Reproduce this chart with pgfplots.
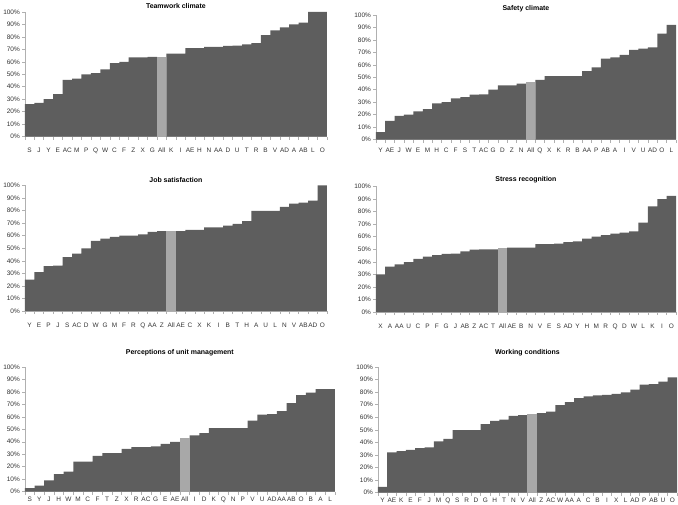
\documentclass[border=0pt]{standalone}
\usepackage{pgfplots}
\pgfplotsset{compat=1.18}
\usepackage{fontspec}
\setmainfont{Liberation Sans}
\definecolor{barD}{HTML}{5E5E5E}
\definecolor{barL}{HTML}{A8A8A8}
\definecolor{axc}{HTML}{B0B0B0}
\pgfplotsset{
  panel/.style={
    scale only axis,
    ybar, bar width=1, bar shift=0,
    ymin=0, ymax=100, xmin=-0.5, xmax=31.5,
    axis x line=bottom, axis y line=left,
    axis line style={-, axc, line width=0.6pt},
    ytick={0,10,...,100},
    yticklabel={\pgfmathprintnumber{\tick}\%},
    /pgf/number format/assume math mode=true,
    yticklabel style={font=\fontsize{6.5}{7.5}\selectfont, color=black!80, xshift=1pt},
    xticklabel style={font=\fontsize{6.5}{7.5}\selectfont, color=black!80, inner sep=0pt},
    xtick={0,...,31},
    major x tick style={draw=none},
    minor xtick={-0.5,0.5,...,31.5},
    minor x tick style={axc, line width=0.5pt},
    minor tick length=3pt,
    major tick length=2.5pt,
    y tick style={axc, line width=0.5pt},
    tick align=outside,
    title style={font=\fontsize{7}{8}\selectfont\bfseries, inner sep=0pt, yshift=-3pt},
    every axis plot/.append style={draw=none},
    clip=false,
  }
}
\begin{document}
\begin{tikzpicture}[x=1bp,y=1bp]
\path (0,0) rectangle (678,506);
% Teamwork climate
\begin{axis}[panel, at={(23bp,369bp)}, anchor=south west, width=303bp, height=125bp,
  title={Teamwork climate},
  xticklabels={S,J,Y,E,AC,M,P,Q,W,C,F,Z,X,G,All,K,I,AE,H,N,AA,D,U,T,R,B,V,AD,A,AB,L,O},
  xticklabel style={yshift=-9pt}]
\addplot[fill=barD] coordinates {(0,26)(1,27)(2,30)(3,34)(4,45.5)(5,46.5)(6,50)(7,51)(8,54)(9,59)(10,60)(11,63.6)(12,63.6)(13,64)
(15,66.5)(16,66.5)(17,71)(18,71)(19,72)(20,72)(21,72.7)(22,73)(23,74)(24,75)(25,81.5)(26,85.3)(27,87.7)(28,90)(29,91.4)(30,100)(31,100)};
\addplot[fill=barL] coordinates {(14,64)};
\end{axis}
% Safety climate
\begin{axis}[panel, at={(375bp,366bp)}, anchor=south west, width=301bp, height=125bp,
  title={Safety climate},
  xticklabels={Y,AE,J,W,E,M,H,C,F,S,T,AC,G,D,Z,N,All,Q,X,K,R,B,AA,P,AB,A,I,V,U,AD,O,L},
  xticklabel style={yshift=-6pt}]
\addplot[fill=barD] coordinates {(0,5.9)(1,15)(2,19)(3,20)(4,22.7)(5,24.5)(6,29)(7,30)(8,33)(9,34)(10,36)(11,36.2)(12,40)(13,43.5)(14,43.5)(15,45)
(17,48)(18,51)(19,51)(20,51)(21,51)(22,55)(23,58)(24,65)(25,66)(26,68)(27,72)(28,73)(29,74)(30,85)(31,92)};
\addplot[fill=barL] coordinates {(16,46)};
\end{axis}
% Job satisfaction
\begin{axis}[panel, at={(23bp,194bp)}, anchor=south west, width=303bp, height=126bp,
  title={Job satisfaction},
  xticklabels={Y,E,P,J,S,AC,D,W,G,M,F,R,Q,AA,Z,All,AE,C,X,K,I,B,T,H,A,U,L,N,V,AB,AD,O},
  xticklabel style={yshift=-9pt}]
\addplot[fill=barD] coordinates {(0,25)(1,31)(2,35.8)(3,36.3)(4,43)(5,45.8)(6,50)(7,56)(8,57.6)(9,59)(10,60)(11,60)(12,61)(13,63)(14,63.7)
(16,63.7)(17,64.7)(18,64.7)(19,66.6)(20,66.6)(21,68)(22,69.5)(23,71.6)(24,79.7)(25,79.7)(26,79.7)(27,83)(28,85.5)(29,86.3)(30,88)(31,100)};
\addplot[fill=barL] coordinates {(15,63.7)};
\end{axis}
% Stress recognition
\begin{axis}[panel, at={(375bp,193bp)}, anchor=south west, width=301bp, height=126bp,
  title={Stress recognition},
  xticklabels={X,A,AA,U,C,P,F,G,J,AB,Z,AC,T,All,AE,B,N,V,E,S,AD,Y,H,M,R,Q,D,W,L,K,I,O},
  xticklabel style={yshift=-9pt}]
\addplot[fill=barD] coordinates {(0,30)(1,36.3)(2,38)(3,39.7)(4,42.4)(5,44.2)(6,45.3)(7,46.3)(8,46.6)(9,48.4)(10,49.7)(11,50)(12,50)
(14,51.3)(15,51.3)(16,51.3)(17,54.2)(18,54.2)(19,54.5)(20,55.8)(21,56.3)(22,58.4)(23,60)(24,61.3)(25,62.4)(26,63.2)(27,64.2)(28,71.3)(29,84.2)(30,90)(31,92.6)};
\addplot[fill=barL] coordinates {(13,50.8)};
\end{axis}
% Perceptions of unit management
\begin{axis}[panel, at={(23bp,13bp)}, anchor=south west, width=311bp, height=125bp,
  title={Perceptions of unit management},
  title style={yshift=8pt},
  xticklabels={S,Y,J,H,W,M,C,F,T,Z,X,R,AC,G,E,AE,All,I,D,K,Q,N,P,V,U,AD,AA,AB,O,B,A,L},
  xticklabel style={yshift=-3pt}]
\addplot[fill=barD] coordinates {(0,2.9)(1,4.8)(2,9)(3,14)(4,16)(5,24)(6,24)(7,28.7)(8,30.9)(9,30.9)(10,34.3)(11,35.6)(12,35.6)(13,36.2)(14,38.3)(15,40)
(17,45.2)(18,47)(19,51)(20,51)(21,51)(22,51)(23,57)(24,61.7)(25,62.2)(26,64.6)(27,71)(28,77.4)(29,79.5)(30,82.2)(31,82.2)};
\addplot[fill=barL] coordinates {(16,43.4)};
\end{axis}
% Working conditions
\begin{axis}[panel, at={(377bp,12bp)}, anchor=south west, width=300bp, height=126bp,
  title={Working conditions},
  title style={yshift=8pt},
  xticklabels={Y,AE,K,E,F,J,M,Q,S,R,D,G,H,T,N,V,All,Z,AC,W,AA,A,C,B,I,X,L,AD,P,AB,U,O},
  xticklabel style={yshift=-3pt}]
\addplot[fill=barD] coordinates {(0,4.5)(1,32)(2,33)(3,34)(4,35.4)(5,36)(6,40.7)(7,42.8)(8,49.7)(9,49.7)(10,49.7)(11,54.5)(12,57)(13,58)(14,61)(15,61.7)
(17,63.3)(18,64.4)(19,69.7)(20,72)(21,75.3)(22,76.6)(23,77.4)(24,77.7)(25,78.5)(26,79.8)(27,82)(28,86)(29,86.4)(30,88.3)(31,91.8)};
\addplot[fill=barL] coordinates {(16,62.2)};
\end{axis}
\end{tikzpicture}
\end{document}
